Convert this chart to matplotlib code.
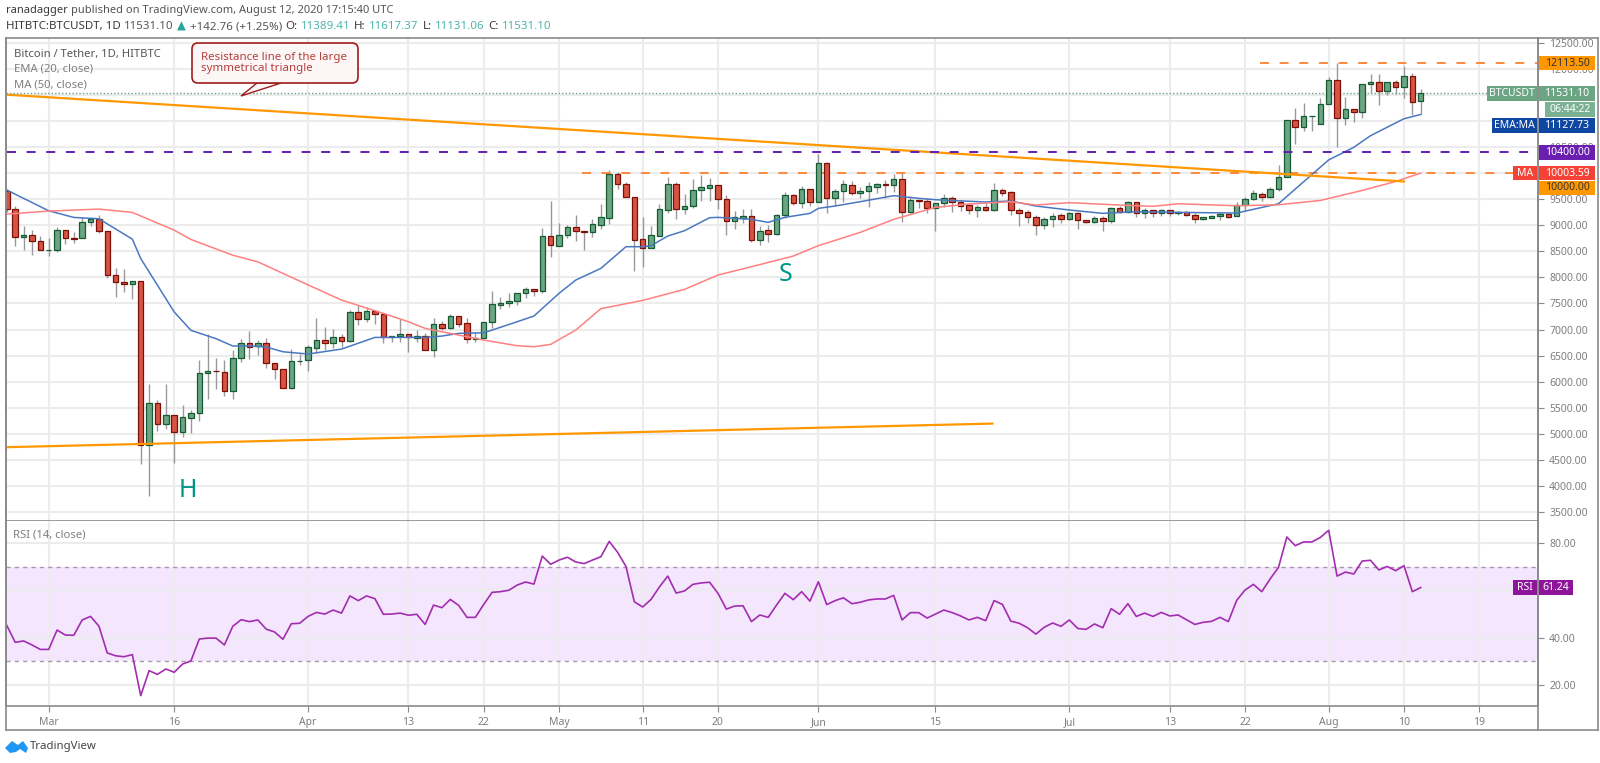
# BTCUSDT daily candles with EMA/MA and RSI pane, TradingView style
import matplotlib
matplotlib.use('Agg')
import matplotlib.pyplot as plt
from matplotlib.patches import Rectangle, Polygon, FancyBboxPatch
from matplotlib.transforms import IdentityTransform

plt.rcParams['font.family'] = ['Noto Sans', 'DejaVu Sans']

W, H = 1600, 763

# days counted from Mar 1, first candle is Feb 25
first_day = -5
opens = [9665, 9320, 8780, 8820, 8697, 8524, 8524, 8920, 8750, 8748,
         9056, 9126, 8882, 8043, 7921, 7883, 7940, 4793, 5582, 5184,
         5363, 5030, 5300, 5395, 6171, 6210, 6190, 5825, 6460, 6748,
         6675, 6735, 6363, 6235, 5876, 6389, 6414, 6650, 6792, 6740,
         6862, 6772, 7329, 7208, 7365, 7297, 6856, 6870, 6913, 6845,
         6880, 6612, 7099, 7035, 7259, 7118, 6824, 6843, 7137, 7480,
         7508, 7547, 7700, 7771, 7732, 8788, 8609, 8820, 8974, 8884,
         8865, 9006, 9147, 9979, 9800, 9537, 8731, 8564, 8800, 9300,
         9787, 9320, 9365, 9678, 9723, 9768, 9505, 9076, 9149, 9179,
         8718, 8904, 8834, 9198, 9576, 9422, 9691, 9454, 10190, 9524,
         9659, 9774, 9627, 9659, 9742, 9787, 9768, 9883, 9262, 9480,
         9473, 9332, 9422, 9524, 9454, 9384, 9300, 9345, 9300, 9678,
         9633, 9300, 9249, 9166, 9006, 9115, 9192, 9128, 9230, 9102,
         9064, 9134, 9076, 9332, 9256, 9441, 9230, 9288, 9230, 9290,
         9240, 9255, 9204, 9128, 9147, 9172, 9210, 9172, 9395, 9510,
         9600, 9536, 9701, 9925, 11021, 10893, 11090, 10938, 11327, 11786,
         11066, 11231, 11180, 11722, 11754, 11582, 11754, 11658, 11875, 11389.41]
closes = [9320, 8780, 8820, 8697, 8524, 8530, 8902, 8748, 8740, 9056,
          9126, 8882, 8043, 7921, 7883, 7940, 4793, 5582, 5184, 5363,
          5030, 5325, 5395, 6171, 6210, 6200, 5825, 6460, 6748, 6665,
          6735, 6363, 6235, 5876, 6389, 6405, 6657, 6792, 6740, 6862,
          6772, 7329, 7208, 7355, 7290, 6856, 6875, 6913, 6850, 6875,
          6612, 7099, 7035, 7259, 7112, 6824, 6845, 7137, 7483, 7502,
          7547, 7700, 7771, 7732, 8788, 8628, 8820, 8974, 8884, 8878,
          9025, 9153, 9985, 9800, 9537, 8718, 8564, 8808, 9307, 9787,
          9320, 9371, 9678, 9736, 9768, 9505, 9076, 9166, 9179, 8718,
          8884, 8840, 9198, 9576, 9422, 9691, 9454, 10190, 9524, 9659,
          9787, 9627, 9659, 9755, 9787, 9768, 9883, 9262, 9480, 9470,
          9332, 9422, 9524, 9454, 9377, 9300, 9345, 9300, 9678, 9627,
          9300, 9243, 9166, 9006, 9115, 9179, 9128, 9230, 9096, 9064,
          9134, 9076, 9332, 9256, 9441, 9230, 9288, 9230, 9290, 9240,
          9255, 9204, 9128, 9155, 9172, 9210, 9166, 9395, 9510, 9618,
          9548, 9701, 9925, 11021, 10893, 11091, 11100, 11327, 11786, 11066,
          11231, 11180, 11722, 11754, 11582, 11754, 11658, 11875, 11372, 11531.10]
highs = [9700, 9370, 8985, 8908, 8793, 8748, 8960, 8920, 8863, 9165,
         9165, 9197, 8882, 8190, 8158, 7940, 7940, 5947, 5640, 5947,
         5363, 5543, 5447, 6408, 6908, 6460, 6408, 6600, 6825, 6966,
         6793, 6844, 6363, 6235, 6620, 6536, 6702, 7227, 7054, 7003,
         6913, 7374, 7470, 7425, 7365, 7297, 6875, 7201, 6913, 6990,
         6939, 7214, 7156, 7304, 7259, 7227, 6952, 7137, 7739, 7617,
         7707, 7700, 7822, 7771, 8942, 9467, 9051, 9006, 9198, 8884,
         9115, 9409, 10062, 10030, 9838, 9537, 9166, 8987, 9409, 9934,
         9838, 9601, 9883, 9966, 9902, 9768, 9582, 9275, 9307, 9307,
         8987, 9006, 9217, 9633, 9601, 9755, 9691, 10369, 10216, 9691,
         9870, 9857, 9742, 9838, 9819, 9870, 9985, 9998, 9563, 9480,
         9518, 9422, 9595, 9563, 9486, 9435, 9390, 9435, 9806, 9710,
         9665, 9326, 9294, 9198, 9153, 9230, 9230, 9262, 9262, 9102,
         9179, 9179, 9358, 9371, 9473, 9455, 9326, 9295, 9320, 9300,
         9280, 9280, 9236, 9160, 9204, 9249, 9236, 9446, 9536, 9670,
         9631, 9733, 10160, 11021, 11244, 11352, 11100, 11448, 11843, 12113.5,
         11467, 11231, 11722, 11900, 11900, 11760, 11786, 12054, 11926, 11617.37]
lows = [9260, 8600, 8523, 8427, 8524, 8408, 8492, 8640, 8652, 8748,
        8985, 8844, 7998, 7626, 7722, 7581, 4421, 3812, 5062, 5094,
        4440, 4934, 5011, 5254, 5665, 5857, 5716, 5665, 6376, 6434,
        6505, 6261, 6043, 5876, 5857, 6318, 6200, 6555, 6606, 6638,
        6670, 6753, 7080, 7150, 7105, 6747, 6753, 6766, 6561, 6760,
        6600, 6478, 6990, 7016, 7054, 6747, 6766, 6843, 7022, 7387,
        7438, 7470, 7611, 7643, 7694, 8398, 8609, 8750, 8705, 8526,
        8769, 8923, 9019, 9704, 9537, 8129, 8193, 8564, 8800, 9243,
        9121, 9217, 9326, 9467, 9467, 9313, 8814, 8929, 9038, 8673,
        8622, 8686, 8814, 9134, 9390, 9326, 9371, 9454, 9230, 9371,
        9454, 9582, 9518, 9358, 9614, 9531, 9646, 9070, 9230, 9339,
        9243, 8897, 9345, 9256, 9281, 9217, 9153, 9281, 9281, 9570,
        9198, 8993, 9038, 8814, 8929, 8974, 9051, 9102, 8936, 9038,
        9038, 8897, 9051, 9243, 9230, 9153, 9134, 9153, 9170, 9180,
        9200, 9180, 9045, 9109, 9147, 9109, 9134, 9172, 9268, 9490,
        9459, 9523, 9650, 9925, 10562, 10817, 10817, 10938, 11327, 10511,
        10925, 10989, 11066, 11531, 11308, 11499, 11512, 11435, 11117, 11131.06]

ema_days = [-5, 0, 3, 6, 10, 11, 15, 17, 20, 22, 24, 26, 28, 31, 35, 39, 45, 47, 49, 52, 53, 56, 58, 61, 63,
            66, 69, 71, 72, 74, 76, 79, 80, 84, 86, 88, 91, 92, 94, 97, 101, 104, 106, 112, 115, 118, 122, 126,
            130, 135, 142, 147, 153, 156, 158, 162, 164]
ema_vals = [9677, 9280, 9152, 9126, 8735, 8363, 7338, 6985, 6825, 6684, 6684, 6665, 6574, 6530, 6625, 6849, 6849,
            6875, 6926, 6939, 6990, 7150, 7259, 7694, 7950,
            8174, 8590, 8590, 8610, 8795, 8897, 9147, 9153, 9115, 9057, 9153, 9230, 9326, 9371, 9454, 9569, 9518,
            9492, 9448, 9467, 9371, 9294, 9230, 9262, 9249, 9236, 9415, 10256, 10498, 10721, 11046, 11127.73]
ma_days = [-5, 0, 6, 10, 15, 17, 22, 25, 28, 30, 35, 40, 43, 45, 49, 52, 56, 58, 60, 63, 66, 71, 76, 80, 84, 89,
           92, 97, 101, 106, 110, 115, 118, 122, 128, 132, 135, 142, 147, 152, 157, 161, 164]
ma_vals = [9216, 9274, 9312, 9248, 8908, 8729, 8427, 8299, 8078, 7930, 7566, 7310, 7150, 7022, 6894, 6798, 6689,
           6670, 6715, 6990, 7400, 7560, 7771, 8046, 8206, 8411, 8610, 8865, 9115, 9345, 9409, 9454, 9390, 9435,
           9390, 9365, 9414, 9376, 9395, 9478, 9670, 9842, 10003.59]

rsi_vals = [45.1, 38.0, 38.6, 36.9, 35.0, 35.0, 43.2, 41.1, 41.0, 47.5, 49.0, 44.9, 33.5, 32.3, 31.9, 32.8, 15.4,
            26.0, 24.4, 26.7, 25.3, 28.8, 30.1, 39.4, 39.8, 39.8, 36.9, 44.8, 47.6, 46.8, 47.5, 43.6, 42.4, 39.3,
            45.9, 46.1, 49.0, 50.7, 50.0, 51.7, 50.4, 57.7, 55.7, 57.7, 56.5, 49.9, 50.0, 50.4, 49.5, 49.9, 45.6,
            53.8, 52.7, 56.2, 53.7, 48.6, 48.6, 54.1, 59.2, 59.5, 60.1, 62.3, 63.6, 62.7, 74.6, 71.1,
            72.9, 74.1, 72.1, 71.4, 72.9, 74.3, 80.8, 76.2, 70.2, 55.2, 53.0, 56.2, 61.5, 66.1, 58.9, 59.8, 62.6,
            63.2, 63.5, 58.8, 52.1, 53.4, 53.5, 46.8, 49.6, 48.6, 53.8, 58.8, 56.1, 59.5, 55.5, 63.7, 54.0, 55.7,
            56.9, 54.4, 55.0, 56.0, 56.4, 56.4, 57.9, 47.5, 50.6, 50.6, 48.3, 50.0, 51.7, 50.6, 49.2, 47.5, 48.6,
            47.2, 55.7, 54.1, 47.0, 46.1, 44.2, 41.5, 44.4, 46.2, 44.8,
            47.5, 43.9, 43.5, 45.8, 44.2, 52.3, 49.9, 54.4, 49.0, 50.4, 49.0, 50.7, 49.2, 49.6, 47.6, 45.6, 46.5,
            46.9, 48.6, 46.8, 55.8, 60.2, 62.6, 59.5, 64.9, 69.8, 82.7, 79.0, 80.6, 80.6, 82.5, 85.5, 66.1, 67.8,
            67.0, 72.5, 72.8, 68.7, 70.2, 68.4, 70.5, 59.5, 61.24]

tick_days = [0, 15, 31, 43, 52, 61, 71, 80, 92, 106, 122, 134, 143, 153, 162, 171]
tick_labels = ['Mar', '16', 'Apr', '13', '22', 'May', '11', '20', 'Jun', '15', 'Jul', '13', '22', 'Aug', '10', '19']
price_ticks = [3500, 4000, 4500, 5000, 5500, 6000, 6500, 7000, 7500, 8000, 8500, 9000, 9500, 10000, 10500, 11000,
               11500, 12000, 12500]
hidden_ticks = [10000, 11000, 11500]  # sit fully behind the price labels
rsi_ticks = [20, 40, 60, 80]
rsi_hidden = [60]

resistance_days = [-5, 162]
resistance_vals = [11508, 9842]
support_days = [-5, 112.8]
support_vals = [4742, 5195]

UP, UP_EDGE, DOWN, DOWN_EDGE = '#6ba583', '#145a32', '#d75442', '#7a1008'
ORANGE, PURPLE = '#ff9800', '#5e1fb5'
GRID, AXIS, TEXT = '#ececec', '#8a8a8a', '#7f7f7f'

fig = plt.figure(figsize=(W / 100, H / 100), dpi=100, facecolor='white')


def pane(left, top, right, bottom):
    return fig.add_axes([left / W, 1 - bottom / H, (right - left) / W, (bottom - top) / H])


AX_L, AX_R = 6, 1538
ax = pane(AX_L, 38, AX_R, 520.7)
rx = pane(AX_L, 520.7, AX_R, 706)
xlim = ((AX_L - 48.7) / 8.366, (AX_R - 48.7) / 8.366)
for a in (ax, rx):
    a.set_xlim(*xlim)
    a.set_xticks(tick_days)
    a.grid(True, color=GRID, linewidth=1.5)
    a.set_axisbelow(True)
    for s in a.spines.values():
        s.set_color(AXIS)
        s.set_linewidth(1.2)
    a.spines['top'].set_visible(False)
ax.set_ylim(3331, 12596)
ax.set_yticks(price_ticks)
ax.yaxis.tick_right()
ax.tick_params(axis='y', length=4, color=AXIS, labelsize=7.5, labelcolor=TEXT, pad=4, zorder=1)
ax.set_yticklabels(['' if p in hidden_ticks else '%.2f' % p for p in price_ticks])
ax.tick_params(axis='x', length=0, labelbottom=False)
rx.set_ylim(11.0, 89.6)
rx.set_yticks(rsi_ticks)
rx.yaxis.tick_right()
rx.set_yticklabels(['' if p in rsi_hidden else '%.2f' % p for p in rsi_ticks])
rx.tick_params(axis='y', length=4, color=AXIS, labelsize=7.5, labelcolor=TEXT, pad=4)
rx.set_xticklabels(tick_labels)
rx.tick_params(axis='x', length=4, color=AXIS, labelsize=7.5, labelcolor=TEXT, pad=4)

# candles
days = [first_day + i for i in range(len(opens))]
for d, o, c, h, l in zip(days, opens, closes, highs, lows):
    up = c >= o
    ax.vlines(d, l, h, color='#999999', linewidth=1.0, zorder=2)
    ax.bar(d, max(abs(c - o), 12), bottom=min(o, c), width=0.66, color=UP if up else DOWN,
           edgecolor=UP_EDGE if up else DOWN_EDGE, linewidth=0.9, zorder=3)

ax.plot(ema_days, ema_vals, color='#4a78c0', linewidth=1.1, zorder=4)
ax.plot(ma_days, ma_vals, color='#ff8080', linewidth=1.1, zorder=4)

# drawn levels and trend lines
ax.plot(resistance_days, resistance_vals, color=ORANGE, linewidth=1.6, zorder=5)
ax.plot(support_days, support_vals, color=ORANGE, linewidth=1.6, zorder=5)
ax.plot([first_day, xlim[1]], [10400, 10400], color=PURPLE, linewidth=1.4, dashes=(4.6, 5.5), zorder=5)
ax.plot([63.8, xlim[1]], [10000, 10000], color='#ff8a3c', linewidth=1.4, dashes=(4.6, 5.5), zorder=2.5)
ax.plot([144.8, xlim[1]], [12113.5, 12113.5], color='#ff8a3c', linewidth=1.4, dashes=(4.6, 5.5), zorder=2.5)
ax.axhline(closes[-1], color=UP, linewidth=1, linestyle=(0, (1, 1.5)), zorder=2)

ax.text(16.6, 3920, 'H', color='#009688', fontsize=18, weight='medium', ha='center', va='center', zorder=6)
ax.text(88.1, 8050, 'S', color='#009688', fontsize=18, weight='medium', ha='center', va='center', zorder=6)

# rsi pane
rsi_days = [first_day + i for i in range(len(rsi_vals))]
rx.axhspan(30, 70, color='#f4e6fd', zorder=0.3, linewidth=0)
rx.axhline(70, color='#a896ad', linewidth=1, linestyle=(0, (3, 3)), zorder=1.5)
rx.axhline(30, color='#a896ad', linewidth=1, linestyle=(0, (3, 3)), zorder=1.5)
rx.plot(rsi_days, rsi_vals, color='#a22db0', linewidth=1.2, zorder=4)

fig.canvas.draw()


def box(x0, x1, yc, h, color, text=None, tc='white', zo=20, weight='bold'):
    fig.add_artist(Rectangle((x0, yc - h / 2), x1 - x0, h, transform=IdentityTransform(), facecolor=color,
                             edgecolor='none', zorder=zo))
    if text:
        fig.text((x0 + x1) / 2 / W, yc / H, text, color=tc, fontsize=7.5, ha='center',
                 va='center', weight=weight, zorder=zo + 1)


def price_y(v, axis=ax):
    return axis.transData.transform((0, v))[1]


R0, R1 = 1539, 1595
box(R0, R1, price_y(12113.5), 14.5, ORANGE, '12113.50', '#333333', weight='normal')
box(R0, R1, price_y(closes[-1]), 14.5, UP, '%.2f' % closes[-1])
box(1487, 1537, price_y(closes[-1]), 14.5, UP, 'BTCUSDT')
box(1545, R1, price_y(closes[-1]) - 16, 14.5, '#7bb293', '06:44:22')
box(R0, R1, price_y(11127.73) - 11, 14.5, '#0d47a1', '11127.73')
box(1492, 1537, price_y(11127.73) - 11, 14.5, '#0d47a1', 'EMA:MA')
box(R0, R1, price_y(10400), 14.5, '#6a1fb0', '10400.00')
box(R0, R1, price_y(10003.59), 14.5, '#f44336', '10003.59')
box(1513, 1537, price_y(10003.59), 14.5, '#f44336', 'MA')
box(R0, R1, price_y(10003.59) - 14.7, 14.5, ORANGE, '10000.00', '#333333', weight='normal')
box(1513, 1536.5, price_y(rsi_vals[-1], rx), 15, '#8e1599', 'RSI')
box(1539, 1573, price_y(rsi_vals[-1], rx), 15, '#8e1599', '61.24')

# outer frame and price scale line
for xs, ys in [((AX_L, 1598), (730, 730)), ((AX_L, 1598), (38, 38)), ((1598, 1598), (38, 730)),
               ((AX_L, AX_L), (38, 730)), ((AX_R, AX_R), (38, 730))]:
    fig.add_artist(plt.Line2D([x / W for x in xs], [1 - y / H for y in ys], color=AXIS, linewidth=1.2, zorder=30))

# legend text
fig.text(13.5 / W, 1 - 54 / H, 'Bitcoin / Tether, 1D, HITBTC', fontsize=8.1, color='#555555', va='center', weight='medium')
fig.text(13.5 / W, 1 - 69 / H, 'EMA (20, close)', fontsize=8.1, color=TEXT, va='center')
fig.text(13.5 / W, 1 - 85 / H, 'MA (50, close)', fontsize=8.1, color=TEXT, va='center')
fig.text(13 / W, 1 - 535 / H, 'RSI (14, close)', fontsize=8.1, color=TEXT, va='center')

# callout
fig.add_artist(FancyBboxPatch((195, H - 80), 160, 34, boxstyle='round,pad=3,rounding_size=6',
                              transform=IdentityTransform(), facecolor='#fdf6f6', edgecolor='#a01c1c',
                              linewidth=1.2, zorder=10))
fig.add_artist(Polygon([(257, H - 83), (241, H - 96), (281, H - 83)], closed=True, transform=IdentityTransform(),
                       facecolor='#fdf6f6', edgecolor='#a01c1c', linewidth=1.0, zorder=9))
fig.text(201 / W, 1 - 57.5 / H, 'Resistance line of the large', fontsize=8.3, color='#b5403c', va='center', zorder=11)
fig.text(201 / W, 1 - 68.5 / H, 'symmetrical triangle', fontsize=8.3, color='#b5403c', va='center', zorder=11)


# header lines, pieces placed one after another
def run_text(x, y, pieces, size):
    r = fig.canvas.get_renderer()
    for s, col, wt in pieces:
        t = fig.text(x / W, 1 - y / H, s, fontsize=size, color=col, weight=wt, va='center')
        x = t.get_window_extent(r).x1 + 3.5


BLK, TEAL = '#3a3a3a', '#4db6ac'
run_text(6, 11, [('ranadagger', BLK, 'bold'), ('published on TradingView.com, August 12, 2020 17:15:40 UTC', '#555555', 'normal')], 8.0)
run_text(6, 26.7, [('HITBTC:BTCUSDT, 1D', BLK, 'bold'), ('11531.10', '#555555', 'normal'), ('\u25b2', '#26a69a', 'normal'),
                   ('+142.76 (+1.25%)', '#555555', 'normal'), ('O:', BLK, 'bold'), ('11389.41', TEAL, 'normal'),
                   ('H:', BLK, 'bold'), ('11617.37', TEAL, 'normal'), ('L:', BLK, 'bold'), ('11131.06', TEAL, 'normal'),
                   ('C:', BLK, 'bold'), ('11531.10', TEAL, 'normal')], 8.3)

# logo
fig.add_artist(Polygon([(5, H - 748), (12, H - 741), (18, H - 745), (23, H - 741), (28, H - 748), (26, H - 753),
                        (20, H - 749), (16, H - 752), (10, H - 753)], closed=True, transform=IdentityTransform(),
                       facecolor='#2196f3', edgecolor='none', zorder=5))
fig.text(30 / W, 1 - 747 / H, 'TradingView', fontsize=8.2, color='#444444', va='center')

fig.savefig('out.png', dpi=100, facecolor='white')
